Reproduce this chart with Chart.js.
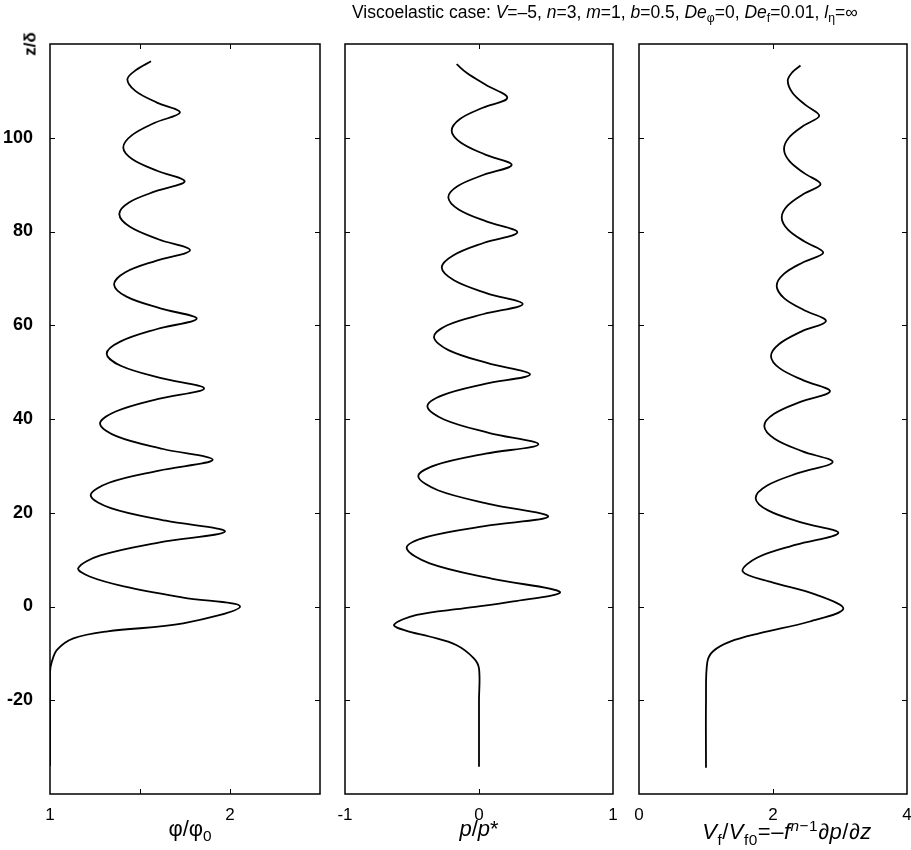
<!DOCTYPE html>
<html>
<head>
<meta charset="utf-8">
<script src="https://cdn.jsdelivr.net/npm/chart.js@4.4.1/dist/chart.umd.min.js"></script>
<style>
  body { margin: 0; background: #fff; }
  #fig { position: relative; width: 911px; height: 850px; font-family: 'Liberation Sans', Arial, sans-serif; color: #000; }
  canvas { position: absolute; top: 0; }
  .lbl { position: absolute; white-space: nowrap; line-height: 1; }
  .xt { top: 818px; font-size: 22px; transform: translateX(-50%); }
  sub { font-size: 70%; vertical-align: -0.35em; }
  sup { font-size: 70%; vertical-align: 0.55em; }
</style>
</head>
<body>
<div id="fig">
  <canvas id="c1" width="335" height="850" style="left:0px"></canvas>
  <canvas id="c2" width="290" height="850" style="left:330px"></canvas>
  <canvas id="c3" width="291" height="850" style="left:620px"></canvas>
  <div class="lbl" style="left:352px; top:4px; font-size:17.5px;">Viscoelastic case: <i>V</i>=–5, <i>n</i>=3, <i>m</i>=1, <i>b</i>=0.5, <i>De</i><sub>φ</sub>=0, <i>De</i><sub>f</sub>=0.01, <i>l</i><sub>η</sub>=∞</div>
  <div class="lbl" style="left:30px; top:44px; font-size:17px; font-weight:bold; transform: translate(-50%,-50%) rotate(-90deg);">z/δ</div>
  <div class="lbl xt" style="left:190px;">φ/φ<sub>0</sub></div>
  <div class="lbl xt" style="left:479px;"><i>p</i>/<i>p</i>*</div>
  <div class="lbl xt" style="left:787px; letter-spacing:0.5px;"><i>V</i><sub>f</sub>/<i>V</i><sub>f0</sub>=–<i>f</i><sup><i>n</i>−1</sup>∂<i>p</i>/∂<i>z</i></div>
</div>
<script>
// Depth z/delta and the three profiles
const zPhi = [-34, -20, -14, -11.8, -9.2, -6.8, -5.3, -3.6, 0, 1.9, 4.3, 6.4, 8.2, 10.9, 13.7, 16.0, 18.3, 21.0, 23.7, 26.4, 29.0, 31.3, 33.6, 36.3, 39.0, 41.6, 44.3, 46.5, 48.7, 51.3, 53.9, 56.5, 59.2, 61.4, 63.6, 66.1, 68.7, 71.3, 73.8, 76.0, 78.3, 81.0, 83.7, 86.2, 88.6, 90.7, 92.9, 95.4, 97.9, 100.5, 103.2, 105.4, 107.5, 110.0, 112.5, 114.5, 116.3];
const phi = [1.0, 1.0, 1.0, 1.01, 1.04, 1.13, 1.32, 1.74, 2.056, 1.74, 1.41, 1.22, 1.157, 1.28, 1.61, 1.972, 1.644, 1.338, 1.226, 1.328, 1.606, 1.904, 1.629, 1.372, 1.278, 1.365, 1.602, 1.856, 1.618, 1.396, 1.315, 1.39, 1.595, 1.815, 1.613, 1.425, 1.356, 1.419, 1.592, 1.778, 1.605, 1.444, 1.385, 1.439, 1.588, 1.748, 1.598, 1.458, 1.407, 1.454, 1.583, 1.722, 1.594, 1.474, 1.43, 1.48, 1.561];

const zP = [-34.2, -20, -13.2, -11, -8.2, -6.4, -5.2, -3.9, -1.8, -0.4, 1.1, 3.1, 5.9, 9.2, 12.5, 14.9, 17.2, 19.2, 21.8, 24.8, 27.8, 30.2, 32.6, 34.6, 37.0, 39.9, 42.7, 45.1, 47.5, 49.5, 51.9, 54.7, 57.5, 60.0, 62.4, 64.5, 66.8, 69.6, 72.3, 74.9, 77.6, 79.8, 82.1, 84.7, 87.3, 89.7, 92.1, 94.2, 96.4, 99.0, 101.5, 104.0, 106.4, 108.5, 111.3, 113.8, 115.7];
const pres = [0, 0, 0, -0.04, -0.17, -0.37, -0.54, -0.634, -0.465, -0.117, 0.256, 0.604, 0.101, -0.368, -0.54, -0.381, 0.052, 0.517, 0.09, -0.307, -0.453, -0.319, 0.049, 0.443, 0.079, -0.261, -0.385, -0.27, 0.044, 0.381, 0.066, -0.228, -0.336, -0.237, 0.035, 0.326, 0.06, -0.187, -0.278, -0.193, 0.038, 0.286, 0.059, -0.152, -0.229, -0.158, 0.036, 0.244, 0.047, -0.137, -0.204, -0.142, 0.028, 0.211, 0.05, -0.09, -0.167];

const zV = [-34.4, -20, -11.8, -9.5, -7.5, -5.7, -3.2, -0.5, 2.5, 5.3, 7.5, 10.4, 13.2, 15.7, 17.9, 20.5, 23.1, 25.8, 28.5, 30.8, 33.1, 35.8, 38.5, 41.1, 43.7, 45.9, 48.2, 50.8, 53.4, 56.0, 58.7, 60.9, 63.2, 65.8, 68.4, 70.9, 73.4, 75.5, 77.8, 80.4, 83.0, 85.5, 88.0, 90.1, 92.4, 95.0, 97.6, 100.1, 102.6, 104.7, 107.0, 109.6, 112.2, 114.0, 115.4];
const vf = [1.0, 1.0, 1.02, 1.11, 1.36, 1.806, 2.55, 3.05, 2.65, 1.955, 1.547, 1.761, 2.347, 2.975, 2.432, 1.926, 1.741, 1.913, 2.384, 2.89, 2.441, 2.023, 1.87, 2.017, 2.419, 2.85, 2.463, 2.102, 1.97, 2.093, 2.429, 2.79, 2.467, 2.165, 2.055, 2.159, 2.444, 2.75, 2.477, 2.223, 2.13, 2.217, 2.455, 2.71, 2.47, 2.246, 2.164, 2.243, 2.459, 2.69, 2.483, 2.29, 2.22, 2.29, 2.41];

const zTicks = [-20, 0, 20, 40, 60, 80, 100];

// inward ticks on all four sides plus the box, like the original
const frameTicks = {
    id: 'frameTicks',
    afterDatasetsDraw(chart) {
        const { ctx, chartArea: a, scales: { x, y } } = chart;
        ctx.save();
        ctx.strokeStyle = '#000';
        ctx.lineWidth = 1;
        ctx.beginPath();
        x.ticks.forEach(t => {
            const px = Math.round(x.getPixelForValue(t.value)) + 0.5;
            if (px < a.left + 2 || px > a.right - 2) return;
            ctx.moveTo(px, a.bottom); ctx.lineTo(px, a.bottom - 5);
            ctx.moveTo(px, a.top); ctx.lineTo(px, a.top + 5);
        });
        y.ticks.forEach(t => {
            const py = Math.round(y.getPixelForValue(t.value)) + 0.5;
            if (py < a.top + 2 || py > a.bottom - 2) return;
            ctx.moveTo(a.left, py); ctx.lineTo(a.left + 5, py);
            ctx.moveTo(a.right, py); ctx.lineTo(a.right - 5, py);
        });
        ctx.stroke();
        ctx.lineWidth = 1.5;
        ctx.strokeRect(a.left, a.top, a.right - a.left, a.bottom - a.top);
        ctx.restore();
    }
};

function makePanel(id, zs, vals, xmin, xmax, xstep, xLabels, leftW, rightPad, showY) {
    const pts = zs.map((z, i) => ({ x: vals[i], y: z }));
    return new Chart(document.getElementById(id), {
        type: 'scatter',
        data: {
            datasets: [{
                data: pts,
                showLine: true,
                borderColor: '#000',
                borderWidth: 1.8,
                pointRadius: 0,
                tension: 0.35,
                fill: false
            }]
        },
        options: {
            responsive: false,
            animation: false,
            layout: { padding: { left: 0, right: rightPad, top: 44, bottom: 0 } },
            plugins: { legend: { display: false }, tooltip: { enabled: false } },
            scales: {
                x: {
                    type: 'linear',
                    min: xmin,
                    max: xmax,
                    grid: { display: false },
                    border: { display: false },
                    ticks: {
                        stepSize: xstep,
                        autoSkip: false,
                        maxRotation: 0,
                        padding: 3,
                        color: '#000',
                        font: { family: 'Liberation Sans, Arial', size: 17 },
                        callback: v => xLabels.includes(v) ? String(v) : ''
                    },
                    afterFit: s => { s.height = 56; s.paddingLeft = 0; s.paddingRight = 0; }
                },
                y: {
                    type: 'linear',
                    min: -40,
                    max: 120,
                    grid: { display: false },
                    border: { display: false },
                    ticks: {
                        stepSize: 20,
                        display: showY,
                        padding: 9,
                        color: '#000',
                        font: { family: 'Liberation Sans, Arial', size: 18, weight: 'bold' },
                        callback: v => zTicks.includes(v) ? String(v) : ''
                    },
                    afterFit: s => { s.width = leftW; s.paddingTop = 0; s.paddingBottom = 0; }
                }
            }
        },
        plugins: [frameTicks]
    });
}

makePanel('c1', zPhi, phi, 1, 2.5, 0.5, [1, 2], 50, 15, true);
makePanel('c2', zP, pres, -1, 1, 1, [-1, 0, 1], 15, 7, false);
makePanel('c3', zV, vf, 0, 4, 2, [0, 2, 4], 19, 4, false);
</script>
</body>
</html>
